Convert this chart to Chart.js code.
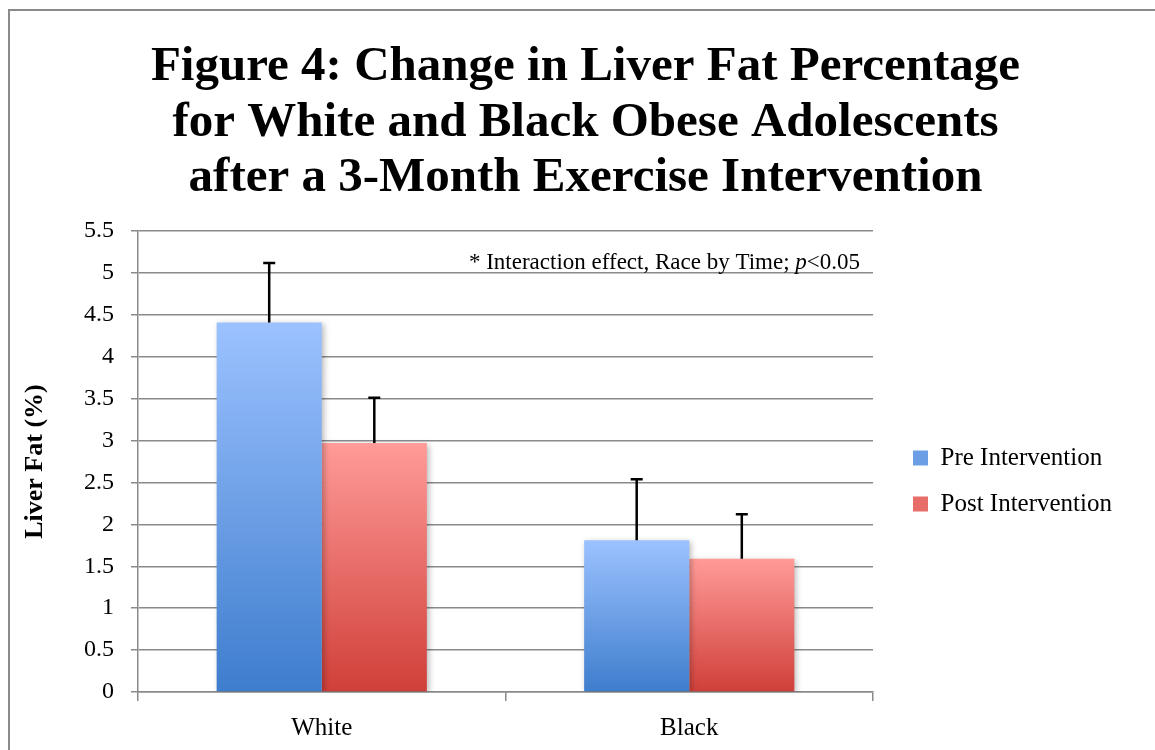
<!DOCTYPE html>
<html>
<head>
<meta charset="utf-8">
<script src="https://cdn.jsdelivr.net/npm/chart.js@4.4.1/dist/chart.umd.min.js"></script>
<style>
  html, body { margin: 0; padding: 0; background: #fff; }
  #wrap { position: relative; width: 1155px; height: 750px; }
  #frame { position: absolute; left: 8px; top: 9px; right: -5px; bottom: -5px; border-left: 2px solid #8a8a8a; border-top: 2px solid #8a8a8a; }
  canvas { position: absolute; left: 0; top: 0; }
</style>
</head>
<body>
<div id="wrap">
  <div id="frame"></div>
  <canvas id="chart" width="1155" height="750"></canvas>
</div>
<script>
const categories = ['White', 'Black'];
const preValues = [4.41, 1.81];
const postValues = [2.97, 1.59];
const preErrors = [0.71, 0.73];
const postErrors = [0.54, 0.53];
const seriesNames = ['Pre Intervention', 'Post Intervention'];
const yTicks = [0, 0.5, 1, 1.5, 2, 2.5, 3, 3.5, 4, 4.5, 5, 5.5];
const titleLines = [
  'Figure 4: Change in Liver Fat Percentage',
  'for White and Black Obese Adolescents',
  'after a 3-Month Exercise Intervention'
];
const note = '* Interaction effect, Race by Time; ';

const serif = '"Liberation Serif", "DejaVu Serif", serif';
const gridGrey = '#8a8a8a';

// top/bottom colours of each series' gradient
const shades = [
  { top: '#9cc2ff', bottom: '#3e7dcd', flat: '#6c9ee6' },
  { top: '#ff9b98', bottom: '#d03f39', flat: '#e76d69' }
];

function barFill(ctx, shade) {
  const chart = ctx.chart;
  if (!chart.chartArea || ctx.type !== 'data') return shade.flat;
  const y = chart.scales.y;
  const top = y.getPixelForValue(ctx.raw);
  const bottom = y.getPixelForValue(0);
  const g = chart.ctx.createLinearGradient(0, top, 0, bottom);
  g.addColorStop(0, shade.top);
  g.addColorStop(1, shade.bottom);
  return g;
}

// legend sits in a fixed-width column right of the plot, like the original
const legendPlace = {
  id: 'legendPlace',
  beforeUpdate(chart) {
    const legend = chart.legend;
    if (!legend || legend._fixedFit) return;
    const fit = legend.fit;
    legend.fit = function () {
      fit.call(this);
      this.width = 282;
    };
    legend._fixedFit = true;
  },
  afterLayout(chart) {
    const legend = chart.legend;
    const dx = 19, dy = 106;
    legend.left += dx; legend.right += dx;
    legend.top += dy; legend.bottom += dy;
  }
};

const shadowPlugin = {
  id: 'barShadow',
  beforeDatasetsDraw(chart) {
    const c = chart.ctx;
    c.save();
    c.shadowColor = 'rgba(0,0,0,0.28)';
    c.shadowBlur = 6;
    c.shadowOffsetX = 2;
    c.shadowOffsetY = 2;
  },
  afterDatasetsDraw(chart) {
    chart.ctx.restore();
  }
};

const errorPlugin = {
  id: 'errorBars',
  afterDatasetsDraw(chart) {
    const c = chart.ctx;
    const y = chart.scales.y;
    const errs = [preErrors, postErrors];
    c.save();
    c.strokeStyle = '#000';
    c.lineWidth = 2.5;
    chart.data.datasets.forEach((ds, i) => {
      chart.getDatasetMeta(i).data.forEach((bar, j) => {
        const yTop = y.getPixelForValue(ds.data[j] + errs[i][j]);
        c.beginPath();
        c.moveTo(bar.x, bar.y);
        c.lineTo(bar.x, yTop);
        c.moveTo(bar.x - 6, yTop);
        c.lineTo(bar.x + 6, yTop);
        c.stroke();
      });
    });
    c.restore();
  }
};

const notePlugin = {
  id: 'note',
  afterDraw(chart) {
    const c = chart.ctx;
    const area = chart.chartArea;
    const yBase = chart.scales.y.getPixelForValue(5) - 4;
    const size = 23;
    const tail = '<0.05';
    c.save();
    c.fillStyle = '#000';
    c.textBaseline = 'alphabetic';
    c.font = size + 'px ' + serif;
    const wTail = c.measureText(tail).width;
    const wNote = c.measureText(note).width;
    c.font = 'italic ' + size + 'px ' + serif;
    const wP = c.measureText('p').width;
    const x0 = area.right - 13 - wTail - wP - wNote;
    c.fillText('p', x0 + wNote, yBase);
    c.font = size + 'px ' + serif;
    c.fillText(note, x0, yBase);
    c.fillText(tail, x0 + wNote + wP, yBase);
    c.restore();
  }
};

new Chart(document.getElementById('chart'), {
  type: 'bar',
  data: {
    labels: categories,
    datasets: [
      { label: seriesNames[0], data: preValues, backgroundColor: (ctx) => barFill(ctx, shades[0]) },
      { label: seriesNames[1], data: postValues, backgroundColor: (ctx) => barFill(ctx, shades[1]) }
    ]
  },
  options: {
    responsive: false,
    animation: false,
    devicePixelRatio: 1,
    barPercentage: 1,
    categoryPercentage: 0.572,
    layout: { padding: { left: 16, right: 0, top: 0, bottom: 0 } },
    plugins: {
      title: {
        display: true,
        text: titleLines,
        color: '#000',
        font: { family: serif, size: 49, weight: 'bold', lineHeight: 1.13 },
        padding: { top: 40, bottom: 25 }
      },
      legend: {
        position: 'right',
        labels: {
          color: '#000',
          font: { family: serif, size: 25 },
          boxWidth: 15,
          boxHeight: 15,
          padding: 21,
          generateLabels(chart) {
            return chart.data.datasets.map((ds, i) => ({
              text: ds.label,
              fillStyle: shades[i].flat,
              strokeStyle: shades[i].flat,
              lineWidth: 0,
              datasetIndex: i
            }));
          }
        }
      },
      tooltip: { enabled: false }
    },
    scales: {
      x: {
        grid: { drawOnChartArea: false, drawTicks: true, tickLength: 9, color: gridGrey, lineWidth: 1.5 },
        border: { color: gridGrey, width: 1.5 },
        ticks: { color: '#000', font: { family: serif, size: 25 }, padding: 12 },
        afterFit(scale) { scale.height = 58; }
      },
      y: {
        min: 0,
        max: 5.5,
        afterBuildTicks(scale) { scale.ticks = yTicks.map((v) => ({ value: v })); },
        grid: { color: gridGrey, lineWidth: 1.5, tickLength: 7 },
        border: { color: gridGrey, width: 1.5 },
        ticks: {
          color: '#000',
          font: { family: serif, size: 24 },
          padding: 17,
          callback: (v) => String(v)
        },
        title: {
          display: true,
          text: 'Liver Fat (%)',
          color: '#000',
          font: { family: serif, size: 26, weight: 'bold' },
          padding: { top: 4, bottom: 0 }
        },
        afterFit(scale) { scale.width = 122; }
      }
    }
  },
  plugins: [legendPlace, shadowPlugin, errorPlugin, notePlugin]
});
</script>
</body>
</html>
